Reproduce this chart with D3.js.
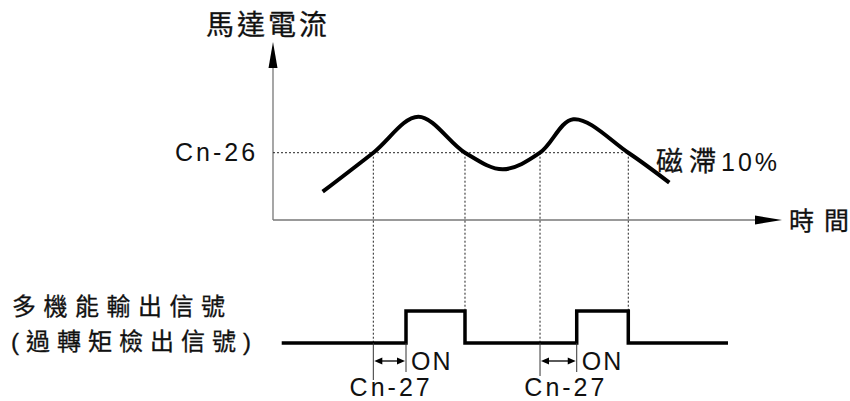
<!DOCTYPE html>
<html><head><meta charset="utf-8">
<script src="https://cdn.jsdelivr.net/npm/d3@7"></script>
<style>
html,body{margin:0;padding:0;background:#fff;}
svg{display:block;}
text{font-family:"Liberation Sans","Noto Sans CJK TC",sans-serif;fill:#111;}
.cjk{stroke:#111;stroke-width:0.3px;}
</style></head>
<body><svg id="c" width="850" height="401"></svg>
<script>
// ---- data ----
const curveTime = [9.76, 19.71, 28.55, 37.72, 45.13, 52.46, 59.0, 69.8, 77.86];
const curveCurrent = [15.9, 37.8, 58.0, 37.8, 28.5, 37.8, 56.6, 37.8, 21.0];
const threshold = 37.8;           // Cn-26 level
const thresholdEnd = 70.7;
const crossUp = [19.71, 52.46];   // current rises above Cn-26
const crossDown = [37.72, 69.8];  // current falls below Cn-26 (signal OFF)
const signalTime = [1.71, 26.13, 37.72, 59.67, 69.8, 89.39];
const signalLevel = [0, 1, 0, 1, 0, 0];
const labels = {
  yTitle: "馬達電流", xTitle: "時間", level: "Cn-26", hystA: "磁滯", hystB: "10%",
  sig1: "多機能輸出信號", sig2: "(過轉矩檢出信號)", on: "ON", delay: "Cn-27"
};

const svg = d3.select("#c");
const x = d3.scaleLinear().domain([0, 100]).range([273, 782]);
const y = d3.scaleLinear().domain([0, 100]).range([220, 42]);
const ys = d3.scaleLinear().domain([0, 1]).range([343, 311]);

// spaced text without trailing spacing
function spaced(sel, str, gap, lead = 0) {
  [...str].forEach((ch, i) => sel.append("tspan").attr("dx", i ? gap : lead).text(ch));
  return sel;
}

// axes
const axisColor = "#777";
svg.append("line").attr("x1", x(0)).attr("x2", x(0)).attr("y1", y(0)).attr("y2", y(100) + 24)
  .attr("stroke", axisColor).attr("stroke-width", 1.3);
svg.append("line").attr("x1", x(0)).attr("x2", x(100) - 24).attr("y1", y(0)).attr("y2", y(0))
  .attr("stroke", axisColor).attr("stroke-width", 1.3);
svg.append("path").attr("d", `M${x(0)},${y(100)} L${x(0)-4.5},${y(100)+26} L${x(0)+4.5},${y(100)+26} Z`).attr("fill", "#000");
svg.append("path").attr("d", `M${x(100)},${y(0)} L${x(100)-27},${y(0)-4.5} L${x(100)-27},${y(0)+4.5} Z`).attr("fill", "#000");

// dotted reference lines
const dot = "2,2";
svg.append("line").attr("x1", x(0)).attr("x2", x(thresholdEnd)).attr("y1", y(threshold)).attr("y2", y(threshold))
  .attr("stroke", "#222").attr("stroke-width", 1).attr("stroke-dasharray", dot);
crossUp.forEach(t => {
  svg.append("line").attr("x1", x(t)).attr("x2", x(t)).attr("y1", y(threshold)).attr("y2", ys(0))
    .attr("stroke", "#222").attr("stroke-width", 1).attr("stroke-dasharray", dot);
});
crossDown.forEach(t => {
  svg.append("line").attr("x1", x(t)).attr("x2", x(t)).attr("y1", y(threshold)).attr("y2", ys(1))
    .attr("stroke", "#222").attr("stroke-width", 1).attr("stroke-dasharray", dot);
});

// current curve
const pts = curveTime.map((t, i) => [t, curveCurrent[i]]);
svg.append("path").datum(pts)
  .attr("d", d3.line().x(d => x(d[0])).y(d => y(d[1])).curve(d3.curveCatmullRom.alpha(0.5)))
  .attr("fill", "none").attr("stroke", "#000").attr("stroke-width", 4);

// signal
const spts = signalTime.map((t, i) => [t, signalLevel[i]]);
svg.append("path").datum(spts)
  .attr("d", d3.line().x(d => x(d[0])).y(d => ys(d[1])).curve(d3.curveStepAfter))
  .attr("fill", "none").attr("stroke", "#000").attr("stroke-width", 3.5);

// Cn-27 delay markers
const rises = signalTime.filter((t, i) => i > 0 && signalLevel[i] === 1 && signalLevel[i-1] === 0);
const markBottom = [380, 376];
crossUp.forEach((t, i) => {
  const x1 = x(t), x2 = x(rises[i]);
  svg.append("line").attr("x1", x1).attr("x2", x1).attr("y1", ys(0)).attr("y2", markBottom[i]).attr("stroke", "#333").attr("stroke-width", 1);
  svg.append("line").attr("x1", x2).attr("x2", x2).attr("y1", ys(0)).attr("y2", 372).attr("stroke", "#333").attr("stroke-width", 1);
  const ay = 361;
  svg.append("line").attr("x1", x1 + 6).attr("x2", x2 - 6).attr("y1", ay).attr("y2", ay).attr("stroke", "#000").attr("stroke-width", 1.3);
  svg.append("path").attr("d", `M${x1+1},${ay} L${x1+9},${ay-3.5} L${x1+9},${ay+3.5} Z`).attr("fill", "#000");
  svg.append("path").attr("d", `M${x2-1},${ay} L${x2-9},${ay-3.5} L${x2-9},${ay+3.5} Z`).attr("fill", "#000");
  spaced(svg.append("text").attr("x", x2 + 5).attr("y", 370).attr("font-size", 25), labels.on, 2);
  spaced(svg.append("text").attr("x", (x1 + x2) / 2 + [0, 6][i]).attr("y", 396).attr("text-anchor", "middle")
    .attr("font-size", 25), labels.delay, 3);
});

// texts
spaced(svg.append("text").attr("class", "cjk").attr("x", 206).attr("y", 35).attr("font-size", 28), labels.yTitle, 3);
spaced(svg.append("text").attr("x", 175).attr("y", 161).attr("font-size", 25), labels.level, 3);
const h = svg.append("text").attr("x", 656).attr("y", 171).attr("font-size", 25);
spaced(h.append("tspan").attr("class", "cjk").attr("font-size", 27), labels.hystA, 6);
spaced(h.append("tspan").attr("font-size", 25), labels.hystB, 3, 5);
spaced(svg.append("text").attr("class", "cjk").attr("x", 789).attr("y", 230).attr("font-size", 25), labels.xTitle, 10);
spaced(svg.append("text").attr("class", "cjk").attr("x", 12).attr("y", 315).attr("font-size", 24), labels.sig1, 7.5);
spaced(svg.append("text").attr("class", "cjk").attr("x", 11).attr("y", 350).attr("font-size", 24), labels.sig2, 7);
</script></body></html>
